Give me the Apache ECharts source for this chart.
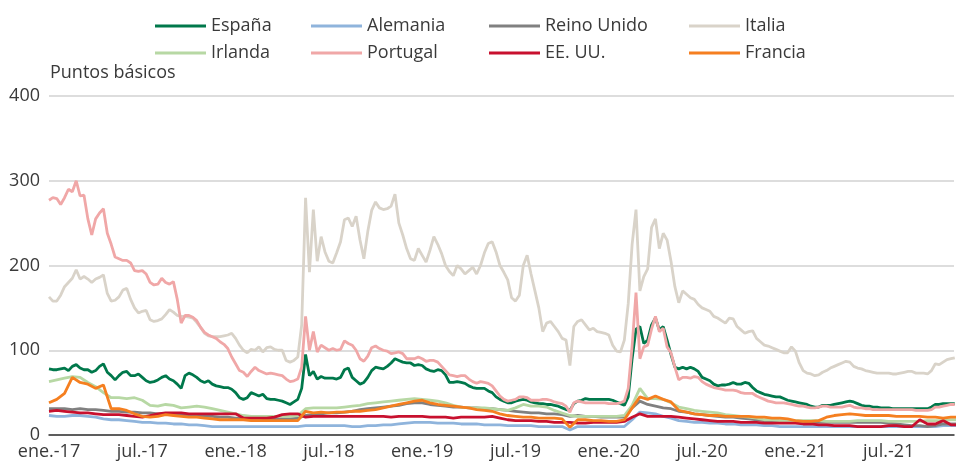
<!DOCTYPE html>
<html><head><meta charset="utf-8">
<script src="https://cdn.jsdelivr.net/npm/echarts@6/dist/echarts.min.js"></script>
<style>html,body{margin:0;padding:0;background:#fff}#c{width:957px;height:470px}</style>
</head><body><div id="c"></div>
<script>
// x positions: months since 1 Jan 2017 (weekly-ish grid for fine series, half-monthly for the others)
const monthsFine = Array.from({length: 234}, (_, i) => i / 4);
const monthsCoarse = Array.from({length: 118}, (_, i) => i / 2);
const tickLabels = ['ene.-17','jul.-17','ene.-18','jul.-18','ene.-19','jul.-19','ene.-20','jul.-20','ene.-21','jul.-21'];
const seriesNames = ['España','Alemania','Reino Unido','Italia','Irlanda','Portugal','EE. UU.','Francia'];

const espana = [78,77,77,78, 79,76,81,83, 79,77,77,74, 76,81,84,74, 70,65,70,74, 75,70,70,72, 68,64,62,63, 65,68,70,66,
 64,60,55,70, 73,71,68,64, 62,64,60,58, 57,56,56,54, 50,44,42,44, 50,48,46,48, 43,42,42,41, 40,38,36,39,
 42,55,95,70, 75,66,69,67, 67,67,66,68, 77,79,68,64, 60,62,68,76, 80,79,78,81, 85,90,88,86, 85,85,82,83,
 82,78,76,75, 77,76,71,62, 62,63,62,61, 58,56,55,55, 55,52,50,45, 42,40,38,38, 40,41,42,41, 39,38,37,37,
 36,36,35,34, 32,30,29,37, 40,41,43,42, 42,42,42,42, 42,41,39,37, 35,45,90,125, 128,108,112,130, 138,124,128,112,
 95,80,78,80, 78,80,78,75, 68,66,64,60, 58,59,59,60, 62,60,60,62, 61,56,52,50, 48,47,46,45, 45,43,41,40,
 39,38,37,36, 34,33,33,35, 35,35,36,37, 38,39,40,39, 37,35,34,34, 33,33,32,32, 32,31,31,31, 31,31,31,31,
 31,31,31,33, 36,36,37,37, 37,37];

const italia = [163,158,158,165, 175,180,185,195, 184,187,184,180, 184,186,189,167, 158,159,163,171, 173,160,150,144,
 146,147,136,134, 135,137,142,148, 145,141,140,140, 139,138,133,127, 120,117,116,116, 116,117,118,120,
 114,106,100,97, 101,100,104,98, 103,104,101,100, 100,88,86,88, 92,130,280,192, 266,205,234,216,
 205,203,215,228, 254,256,246,258, 230,208,240,265, 275,268,266,267, 270,284,250,236, 220,208,206,220,
 212,204,218,234, 225,214,200,193, 188,200,196,190, 194,198,190,200, 215,226,228,216, 200,192,183,162,
 158,165,200,212, 190,170,150,122, 132,134,128,122, 114,112,82,128, 134,136,130,124, 126,122,121,120,
 118,106,99,98, 112,155,225,266, 170,187,196,245, 255,220,238,230, 205,175,156,170, 166,162,160,154,
 150,148,146,140, 138,135,132,138, 137,128,124,120, 122,123,114,110, 106,105,103,101, 99,97,97,104,
 99,85,76,73, 72,70,71,74, 76,79,81,83, 85,87,86,81, 79,78,76,75, 74,73,73,73, 73,72,72,73,
 74,75,75,73, 73,73,72,76, 84,83,86,89, 90,91];

const portugal = [277,280,279,272, 280,290,287,300, 282,283,255,236, 255,262,267,238, 225,210,208,206, 206,203,194,193,
 194,190,180,177, 178,185,180,178, 181,160,132,141, 141,139,135,127, 121,118,116,114, 110,107,102,92,
 84,76,74,69, 75,80,76,74, 72,73,72,71, 70,66,63,64, 66,80,140,100, 122,98,106,103,
 100,102,100,101, 111,108,106,100, 90,87,93,103, 105,102,100,99, 96,97,98,96, 90,90,90,92,
 90,87,88,88, 86,81,76,71, 70,69,70,70, 66,63,61,63, 62,61,58,52, 46,42,40,41,
 42,45,45,44, 41,41,41,42, 42,41,39,38, 37,34,27,38, 40,39,38,38, 38,38,38,38,
 37,37,37,38, 40,55,105,168, 90,104,106,125, 140,122,126,104, 97,80,65,68, 68,67,69,68,
 63,60,58,56, 55,54,53,53, 53,52,50,49, 49,49,46,44, 42,40,39,38, 38,38,37,36,
 35,34,34,33, 32,32,33,34, 34,33,33,33, 33,34,35,33, 32,32,31,31, 30,30,30,30, 30,30,30,30,
 30,30,30,29, 29,29,29,30, 33,33,34,35, 36,36];

const alemania = [23,22, 22,23, 23,22, 21,19, 18,18, 17,16, 15,15, 14,14, 13,13, 12,12, 11,10, 10,10, 10,10, 10,10, 10,10, 10,10,
 10,11, 11,11, 11,11, 11,10, 10,11, 11,12, 12,13, 14,15, 15,15, 14,14, 14,13, 13,13, 12,12, 12,11, 11,11, 11,10,
 10,10, 10,6, 10,10, 10,10, 10,10, 10,18, 27,26, 25,22, 20,17, 16,15, 15,14, 14,13, 13,12, 12,12, 11,11, 10,10,
 10,10, 10,10, 10,10, 10,10, 10,10, 10,10, 10,10, 10,10, 10,10, 10,11, 11,11];

const reinoUnido = [31,31, 31,30, 31,30, 30,29, 28,28, 27,27, 26,26, 25,25, 24,24, 23,23, 22,22, 21,21, 20,20, 20,20, 19,19, 19,19,
 20,23, 24,25, 26,26, 27,28, 30,31, 32,33, 34,35, 37,38, 38,36, 35,34, 33,33, 32,32, 31,31, 30,29, 28,27, 26,26,
 25,25, 24,22, 23,22, 22,21, 21,21, 21,32, 40,36, 34,32, 31,28, 27,25, 24,23, 22,21, 21,20, 19,18, 17,17, 16,16,
 16,16, 15,15, 15,15, 15,15, 15,15, 15,15, 14,13, 12,11, 11,10, 11,13, 13,13];

const irlanda = [63,65, 67,69, 68,62, 57,50, 44,44, 43,44, 41,35, 34,36, 35,32, 33,34, 33,31, 29,27, 25,23, 22,22, 22,22, 22,22,
 23,31, 32,32, 32,32, 33,34, 35,37, 38,39, 40,41, 42,43, 42,41, 40,38, 35,33, 32,32, 32,31, 30,29, 32,36, 34,34,
 33,29, 26,23, 22,22, 22,22, 22,22, 23,35, 55,43, 43,42, 38,33, 31,29, 28,27, 26,24, 23,22, 21,20, 18,18, 17,17,
 17,17, 17,17, 16,16, 16,16, 17,17, 17,17, 16,16, 16,16, 16,17, 17,17, 18,18];

const eeuu = [28,29, 28,27, 26,26, 25,24, 24,24, 23,22, 21,23, 25,26, 26,26, 25,25, 25,25, 25,25, 25,20, 20,20, 20,21, 24,25,
 25,21, 22,22, 22,22, 22,22, 22,22, 22,22, 21,22, 22,22, 22,21, 21,21, 20,21, 21,21, 21,22, 20,18, 17,17, 17,16,
 16,15, 15,15, 14,14, 15,15, 15,15, 16,21, 25,22, 22,22, 22,21, 20,19, 18,17, 16,16, 16,15, 15,15, 14,14, 14,14,
 14,13, 13,12, 12,11, 11,11, 10,10, 10,10, 11,11, 10,10, 18,13, 13,17, 12,12];

const francia = [38,42, 49,68, 62,60, 55,59, 31,31, 29,25, 22,21, 22,24, 23,22, 21,21, 20,19, 18,18, 18,18, 17,17, 17,17, 17,17,
 17,28, 26,27, 26,27, 27,28, 28,29, 30,32, 34,36, 38,40, 41,38, 36,35, 34,33, 32,30, 29,28, 25,23, 22,21, 21,20,
 20,20, 19,9, 18,18, 17,17, 16,16, 18,32, 45,42, 46,42, 39,29, 27,25, 24,23, 23,22, 22,22, 22,21, 21,20, 20,19,
 17,16, 16,17, 21,23, 24,25, 24,23, 23,23, 23,22, 22,22, 22,21, 21,20, 21,21];

const seriesValues = [espana, alemania, reinoUnido, italia, irlanda, portugal, eeuu, francia];
const seriesColors = ['#00784b', '#8fb4dc', '#808080', '#d9d3c9', '#b7d8a4', '#f0a7a7', '#c8102e', '#f57f20'];
const fineSet = new Set([0, 3, 5]);

function pairs(xs, ys) { return ys.map((y, i) => [xs[i], y]); }

const FONT = '"Open Sans", "Noto Sans", sans-serif';
const TXT = '#3a3a3a';
const legendLeft = [155, 311, 489, 689];
const legendTop = [15, 42];

const chart = echarts.init(document.getElementById('c'), null, {renderer: 'canvas'});
chart.setOption({
  animation: false,
  grid: {left: 49, right: 0, top: 96, bottom: 35},
  xAxis: {
    type: 'value', min: 0, max: 58.2, interval: 6,
    axisLine: {lineStyle: {color: '#333', width: 1.5}},
    axisTick: {show: false},
    splitLine: {show: false},
    axisLabel: {
      fontSize: 18, color: TXT, fontFamily: FONT, margin: 8,
      formatter: v => { const k = Math.round(v / 6); return Math.abs(v - k * 6) < 1e-6 ? (tickLabels[k] || '') : ''; }
    }
  },
  yAxis: {
    type: 'value', min: 0, max: 400, interval: 100,
    axisLine: {show: false}, axisTick: {show: false},
    splitLine: {lineStyle: {color: '#d2d2d2', width: 1.5}},
    axisLabel: {fontSize: 18, color: TXT, fontFamily: FONT, margin: 9}
  },
  legend: seriesNames.map((n, i) => ({
    data: [n], left: legendLeft[i % 4], top: legendTop[Math.floor(i / 4)],
    padding: 0, icon: 'rect', itemWidth: 51, itemHeight: 3,
    textStyle: {fontSize: 18, color: TXT, fontFamily: FONT, lineHeight: 22}
  })),
  graphic: [{
    type: 'text', left: 50, top: 64,
    style: {text: 'Puntos básicos', fontSize: 18, fill: TXT, fontFamily: FONT}
  }],
  series: seriesNames.map((n, i) => ({
    name: n, type: 'line', showSymbol: false, symbol: 'none',
    color: seriesColors[i],
    lineStyle: {width: 2.8, color: seriesColors[i]},
    data: pairs(fineSet.has(i) ? monthsFine : monthsCoarse, seriesValues[i])
  }))
});
</script>
</body></html>
